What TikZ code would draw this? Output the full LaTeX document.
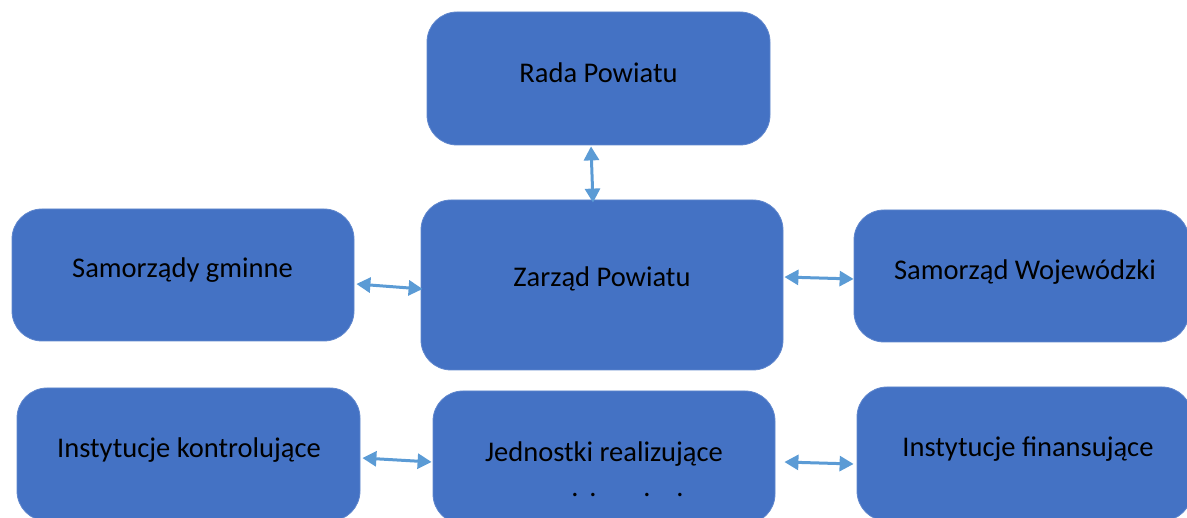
\documentclass[tikz,border=0pt]{standalone}
\usepackage{fontspec}
\setmainfont{Carlito}
\usetikzlibrary{arrows.meta,calc}
\definecolor{boxblue}{HTML}{4472C4}
\definecolor{arrblue}{HTML}{5B9BD5}
\tikzset{
  box/.style={draw=boxblue!85!white, line width=0.8pt, fill=boxblue, rounded corners=30pt, inner sep=0pt},
  txt/.style={anchor=base, inner sep=0pt, font=\fontsize{28.5}{34}\selectfont, text=black},
  dotmark/.style={anchor=base, inner sep=0pt, font=\fontsize{28.5}{34}\selectfont, text=black},
  link/.style={draw=arrblue, line width=3pt, {Triangle[length=14pt,width=15pt]}-{Triangle[length=14pt,width=15pt]}, shorten <=0pt, shorten >=0pt}
}
\begin{document}
\begin{tikzpicture}[x=1pt,y=-1pt]
\useasboundingbox (0,0) rectangle (1187,518);
% boxes
\node[box, minimum width=343pt, minimum height=133pt] (rada) at (598.5,78.5) {};
\node[box, minimum width=362pt, minimum height=170pt] (zarzad) at (602,285) {};
\node[box, minimum width=342pt, minimum height=132pt] (gminne) at (183,275) {};
\node[box, minimum width=335pt, minimum height=132pt] (woj) at (1021.5,276) {};
\node[box, minimum width=343pt, minimum height=133pt] (kontrol) at (188.5,454.5) {};
\node[box, minimum width=342pt, minimum height=133pt] (jedn) at (604,457.5) {};
\node[box, minimum width=335pt, minimum height=134pt] (finans) at (1024.5,454) {};
% texts
\node[txt] (tRada) at (598.5,83) {Rada Powiatu};
\node[txt] (tZarzad) at (602,287) {Zarząd Powiatu};
\node[txt] (tGminne) at (182.5,278) {Samorządy gminne};
\node[txt] (tWoj) at (1025,280) {Samorząd Wojewódzki};
\node[txt] (tKontrol) at (189,458) {Instytucje kontrolujące};
\node[txt] (tJedn) at (604,462) {Jednostki realizujące};
\node[txt] (tFinans) at (1028,457) {Instytucje finansujące};
\node[dotmark] (d1) at (575,497) {.};
\node[dotmark] (d2) at (593,497) {.};
\node[dotmark] (d3) at (647,497) {.};
\node[dotmark] (d4) at (680,497) {.};
% connectors
\draw[link] ($(rada.south)+(-7.5,1)$) -- ($(zarzad.north)+(-9,3)$);
\draw[link] ($(gminne.east)+(2,9)$) -- ($(zarzad.west)+(2,4)$);
\draw[link] ($(zarzad.east)+(1,-8)$) -- ($(woj.west)+(0,3)$);
\draw[link] ($(kontrol.east)+(2,3.5)$) -- ($(jedn.west)+(-1,4.5)$);
\draw[link] ($(jedn.east)+(9,4.5)$) -- ($(finans.west)+(-3,10)$);
\end{tikzpicture}
\end{document}
